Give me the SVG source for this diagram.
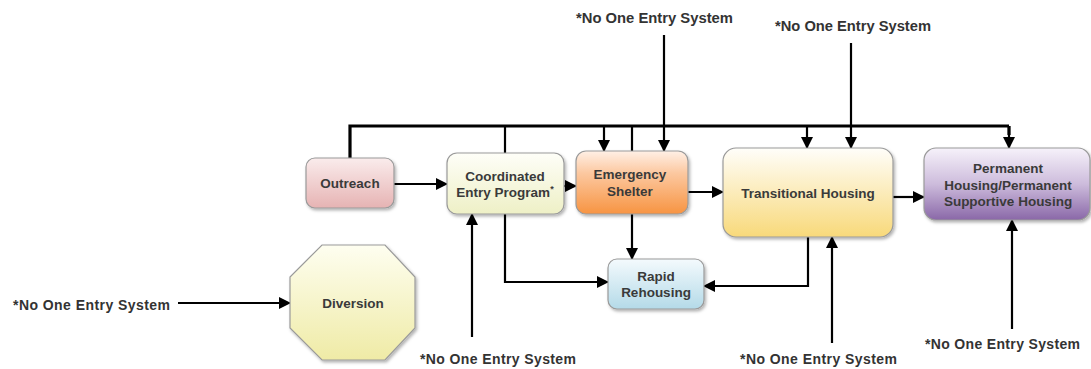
<svg xmlns="http://www.w3.org/2000/svg" width="1091" height="369" viewBox="0 0 1091 369">
<style>
.lbl{font-family:"Liberation Sans",Arial,sans-serif;font-weight:bold;font-size:14px;fill:#333;}
.nt{font-family:"Liberation Sans",Arial,sans-serif;font-weight:bold;font-size:13.5px;fill:#3a3a3a;text-anchor:middle;}
.box{stroke:#9a9a9a;stroke-width:1.2;filter:url(#sh);}
.ln{fill:none;stroke:#000;stroke-width:2.2;}
.bus{fill:none;stroke:#000;stroke-width:3.2;}
.arr{marker-end:url(#ah);}
</style>
<defs>
<filter id="sh" x="-10%" y="-10%" width="125%" height="130%">
<feDropShadow dx="1.5" dy="2" stdDeviation="1.5" flood-color="#000" flood-opacity="0.3"/>
</filter>
<marker id="ah" markerUnits="userSpaceOnUse" markerWidth="12" markerHeight="12" viewBox="0 0 12 12" refX="11" refY="6" orient="auto">
<path d="M0,0 L12,6 L0,12 Z" fill="#000"/>
</marker>
<linearGradient id="gOut" x1="0" y1="0" x2="0" y2="1"><stop offset="0" stop-color="#faecec"/><stop offset="1" stop-color="#e6b3b3"/></linearGradient>
<linearGradient id="gCoord" x1="0" y1="0" x2="0" y2="1"><stop offset="0" stop-color="#fefef8"/><stop offset="1" stop-color="#eef0c6"/></linearGradient>
<linearGradient id="gEm" x1="0" y1="0" x2="0" y2="1"><stop offset="0" stop-color="#fff0e6"/><stop offset="0.35" stop-color="#fcc8a0"/><stop offset="1" stop-color="#f79442"/></linearGradient>
<linearGradient id="gTr" x1="0" y1="0" x2="0" y2="1"><stop offset="0" stop-color="#fffefa"/><stop offset="1" stop-color="#f8d97a"/></linearGradient>
<linearGradient id="gPerm" x1="0" y1="0" x2="0" y2="1"><stop offset="0" stop-color="#f6f2fa"/><stop offset="0.5" stop-color="#cdbcdc"/><stop offset="1" stop-color="#8a68a8"/></linearGradient>
<linearGradient id="gRap" x1="0" y1="0" x2="0" y2="1"><stop offset="0" stop-color="#f4fafd"/><stop offset="1" stop-color="#b4dae8"/></linearGradient>
<linearGradient id="gDiv" x1="0" y1="0" x2="0" y2="1"><stop offset="0" stop-color="#fefef0"/><stop offset="1" stop-color="#efeba6"/></linearGradient>
</defs>

<g id="connectors">
<polyline class="bus" points="350,158 350,126 1009,126"/>
<line class="bus" x1="1009" y1="126" x2="1009" y2="135"/>
<line class="ln arr" x1="1009" y1="126" x2="1009" y2="148"/>
<line class="ln" x1="505" y1="153" x2="505" y2="126"/>
<line class="ln arr" x1="604" y1="126" x2="604" y2="151"/>
<line class="ln" x1="632" y1="151" x2="632" y2="126"/>
<line class="ln arr" x1="807" y1="126" x2="807" y2="148"/>
<line class="ln arr" x1="664" y1="35" x2="664" y2="151"/>
<line class="ln arr" x1="851" y1="43" x2="851" y2="148"/>
<line class="ln arr" x1="394" y1="184" x2="447" y2="184"/>
<line class="ln arr" x1="564" y1="186" x2="576" y2="186"/>
<line class="ln arr" x1="688" y1="192" x2="723" y2="192"/>
<line class="ln arr" x1="893" y1="197" x2="924" y2="197"/>
<line class="ln arr" x1="632" y1="214" x2="632" y2="259"/>
<polyline class="ln arr" points="505,214 505,282 608,282"/>
<polyline class="ln arr" points="808,237 808,286 704,286"/>
<line class="ln arr" x1="472" y1="337" x2="472" y2="214"/>
<line class="ln arr" x1="832" y1="343" x2="832" y2="237"/>
<line class="ln arr" x1="1012" y1="329" x2="1012" y2="220"/>
<line class="ln arr" x1="178" y1="303" x2="290" y2="303"/>
</g>

<g id="outreach">
<rect class="box" x="306" y="158" width="88" height="50" rx="9" fill="url(#gOut)"/>
<text class="nt" x="350" y="188">Outreach</text>
</g>
<g id="coordinated">
<rect class="box" x="447" y="153" width="117" height="61" rx="10" fill="url(#gCoord)"/>
<text class="nt" x="505" y="181">Coordinated</text>
<text class="nt" x="505" y="197">Entry Program<tspan font-size="9" dy="-5">*</tspan></text>
</g>
<g id="emergency">
<rect class="box" x="576" y="151" width="112" height="63" rx="10" fill="url(#gEm)"/>
<text class="nt" x="630" y="179">Emergency</text>
<text class="nt" x="630" y="196">Shelter</text>
</g>
<g id="transitional">
<rect class="box" x="723" y="148" width="170" height="89" rx="13" fill="url(#gTr)"/>
<text class="nt" x="808" y="198">Transitional Housing</text>
</g>
<g id="permanent">
<rect class="box" x="924" y="148" width="166" height="72" rx="12" fill="url(#gPerm)"/>
<text class="nt" x="1008" y="173">Permanent</text>
<text class="nt" x="1008" y="190">Housing/Permanent</text>
<text class="nt" x="1008" y="206">Supportive Housing</text>
</g>
<g id="rapid">
<rect class="box" x="608" y="259" width="96" height="50" rx="9" fill="url(#gRap)"/>
<text class="nt" x="656" y="281">Rapid</text>
<text class="nt" x="656" y="297">Rehousing</text>
</g>
<g id="diversion">
<polygon class="box" points="322,245 385,245 415,277 415,328 385,360 322,360 290,328 290,277" fill="url(#gDiv)"/>
<text class="nt" x="353" y="308">Diversion</text>
</g>

<g id="labels">
<text class="lbl" x="576" y="23" textLength="157" lengthAdjust="spacingAndGlyphs">*No One Entry System</text>
<text class="lbl" x="775" y="31" textLength="156" lengthAdjust="spacingAndGlyphs">*No One Entry System</text>
<text class="lbl" x="13" y="310" textLength="157" lengthAdjust="spacing">*No One Entry System</text>
<text class="lbl" x="420" y="364" textLength="156" lengthAdjust="spacing">*No One Entry System</text>
<text class="lbl" x="740" y="364" textLength="157" lengthAdjust="spacing">*No One Entry System</text>
<text class="lbl" x="925" y="349" textLength="155" lengthAdjust="spacing">*No One Entry System</text>
</g>
</svg>
